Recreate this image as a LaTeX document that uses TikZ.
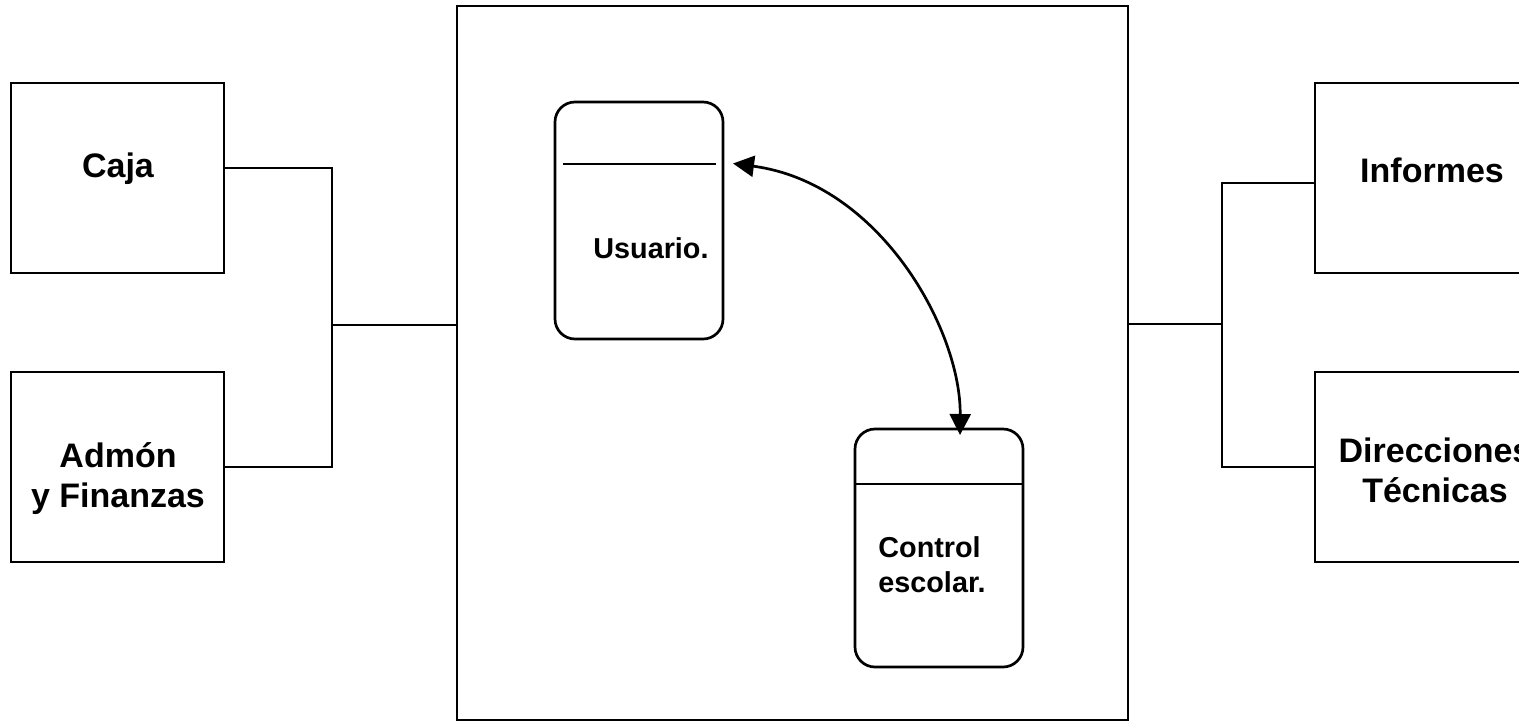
\documentclass[tikz,border=0pt]{standalone}
\usepackage{fontspec}
\setmainfont{Liberation Sans}
\usetikzlibrary{arrows.meta}
\begin{document}
\begin{tikzpicture}[x=0.5pt,y=-0.5pt,
  line width=1.35pt,
  ext/.style={draw, rectangle, inner sep=0pt, outer sep=0pt, anchor=north west,
    minimum width=106.5pt, minimum height=95pt},
  store/.style={draw, rectangle, rounded corners=10pt, inner sep=0pt, outer sep=0pt,
    anchor=north west, minimum width=84pt, minimum height=118.5pt},
  bigtxt/.style={font=\fontsize{17}{20}\selectfont\bfseries, align=center, inner sep=0pt},
  smalltxt/.style={font=\fontsize{14.4}{17.5}\selectfont\bfseries, align=left, inner sep=0pt},
  tri/.style={{Triangle[length=10.5pt,width=10.5pt]}-{Triangle[length=10.5pt,width=10.5pt]}}
]
\useasboundingbox (0,0) rectangle (1519,723);
\clip (0,0) rectangle (1519,723);

% main system box
\node[draw, rectangle, inner sep=0pt, outer sep=0pt, anchor=north west,
  minimum width=335.5pt, minimum height=357pt] (main) at (457,6) {};

% external boxes
\node[ext] (caja) at (11,83) {};
\node[ext] (adm) at (11,372) {};
\node[ext] (inf) at (1315,83) {};
\node[ext] (dir) at (1315,372) {};

\node[bigtxt] (tcaja) at (118,169) {Caja};
\node[bigtxt] (tadm) at (118,479) {Admón\\y Finanzas};
\node[bigtxt] (tinf) at (1432,170) {Informes};
\node[bigtxt] (tdir) at (1435,470) {Direcciones\\Técnicas};

% data stores
\node[store] (usu) at (555,102) {};
\draw (563,164) -- (716,164);
\node[smalltxt, anchor=base west] (tusu) at (592,258) {Usuario.};

\node[store, minimum height=119pt] (ctl) at (855,429) {};
\draw (ctl.west |- 0,484) -- (ctl.east |- 0,484);
\node[smalltxt, anchor=west] (tctl) at (877,565) {Control\\escolar.};

% connectors left
\coordinate (lj) at (332,325);
\draw ([yshift=5pt]caja.east) -| (lj) |- (adm.east);
\draw (lj) -- (lj -| main.west);

% connectors right
\coordinate (rj) at (1222,324);
\draw ([yshift=-2.5pt]inf.west) -| (rj) |- (dir.west);
\draw (rj) -- (rj -| main.east);

% bidirectional arrow
\draw[tri]
  ([xshift=5pt,yshift=28.5pt]usu.east) .. controls (880,183) and (961,330) .. ([xshift=10.5pt,yshift=-3pt]ctl.north);
\end{tikzpicture}
\end{document}
